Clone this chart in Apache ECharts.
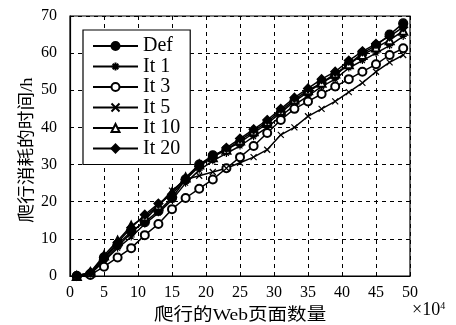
<!DOCTYPE html>
<html><head><meta charset="utf-8">
<script src="https://cdn.jsdelivr.net/npm/echarts@6/dist/echarts.min.js"></script>
<style>html,body{margin:0;padding:0;background:#fff}#c{width:456px;height:325px}</style>
</head><body><div id="c"></div>
<script>
var xs = [1,3,5,7,9,11,13,15,17,19,21,23,25,27,29,31,33,35,37,39,41,43,45,47,49];
var def  = [0,0.5,5,8.5,12,14.5,17.5,21,26,30,32.5,34,36,38.5,41,44,47,49.5,52,54,57,60,62,65,68];
var it1  = [0,0.5,4,7.5,10.5,14,17,20.5,25,28.5,31,33,35,37.5,40,43,46,48.5,51,53,56,58,60,62,64.5];
var it3  = [0,0.3,2.5,5,7.5,11,14,18,21,23.5,26,29,32,35,38.5,42,45,47,49,51,53,55,57,59.5,61.3];
var it5  = [0,0.5,4.5,8,11.5,15,19,23,26,27,28,29,30.5,32,34,38,40,43,45,47,49.5,52,55,57.5,59.5];
var it10 = [0,1,5.5,9.5,13.5,16,19,22.5,26.5,30,32,34,36.5,39,41.5,44.5,47.5,50,52,54.5,57,59.5,61.5,63.5,66];
var it20 = [0,1,5,9,13,16.5,19.5,22,26,29.5,32,34.5,37,39.5,42,45,48,50.5,53,55,58,60.5,62.5,64.5,67];
var names = ['Def','It 1','It 3','It 5','It 10','It 20'];
var xTicks = [0,5,10,15,20,25,30,35,40,45,50];
var yTicks = [0,10,20,30,40,50,60,70];

var SERIF = 'Liberation Serif';
var CJK = 'Liberation Serif, Noto Sans CJK SC';
var starPath = 'path://M5,0L5,10M0,5L10,5M1.5,1.5L8.5,8.5M8.5,1.5L1.5,8.5';
var xPath = 'path://M0,0L10,10M10,0L0,10';
function pairs(v){ return xs.map(function(x,i){return [x,v[i]];}); }
var specs = [
  {d:def, sym:'circle', size:9},
  {d:it1, sym:starPath, size:7},
  {d:it3, sym:'emptyCircle', size:8},
  {d:it5, sym:xPath, size:6},
  {d:it10, sym:'emptyTriangle', size:8},
  {d:it20, sym:'diamond', size:9}
];
var series = specs.map(function(s,i){
  return {
    name: names[i], type:'line', data: pairs(s.d), symbol: s.sym, symbolSize: s.size,
    lineStyle:{color:'#000', width:1.5},
    itemStyle:{color:'#000', borderColor:'#000', borderWidth:1.2},
    animation:false, z: 2
  };
});
var chart = echarts.init(document.getElementById('c'));
chart.setOption({
  animation:false,
  backgroundColor:'#fff',
  grid:{left:70, right:46, top:16, bottom:49, show:true, borderColor:'#000', borderWidth:1.2, backgroundColor:'transparent'},
  xAxis:{type:'value', min:0, max:50, interval:5,
    axisLine:{lineStyle:{color:'#000', width:1.2}},
    axisTick:{inside:true, length:4, lineStyle:{color:'#000'}},
    axisLabel:{color:'#000', fontFamily:SERIF, fontSize:16, margin:9,
      formatter:function(v){return xTicks.indexOf(v)>=0 ? String(v) : '';}},
    splitLine:{show:true, lineStyle:{color:'#000', type:[4,4], width:1}}
  },
  yAxis:{type:'value', min:0, max:70, interval:10,
    axisLine:{show:true, lineStyle:{color:'#000', width:1.2}},
    axisTick:{show:true, inside:true, length:4, lineStyle:{color:'#000'}},
    axisLabel:{color:'#000', fontFamily:SERIF, fontSize:16, margin:13,
      formatter:function(v){return yTicks.indexOf(v)>=0 ? String(v) : '';}},
    splitLine:{show:true, lineStyle:{color:'#000', type:[4,4], width:1}}
  },
  legend:{
    data:names, orient:'vertical', left:83, top:30, z:20,
    padding:[6,10,6,9], itemGap:0.5, itemWidth:45, itemHeight:10,
    backgroundColor:'#fff', borderColor:'#000', borderWidth:1.2,
    textStyle:{color:'#000', fontFamily:SERIF, fontSize:20, lineHeight:20, padding:[0,0,0,0]}
  },
  graphic:[
    {type:'text', left:154, top:307, scaleX:1.15, style:{text:'爬行的Web页面数量', fontFamily:CJK, fontSize:17, fill:'#000'}},
    {type:'text', x:28, y:150, rotation:Math.PI/2, scaleX:1.1, style:{text:'爬行消耗的时间/h', fontFamily:CJK, fontSize:17, fill:'#000', align:'center', verticalAlign:'middle'}},
    {type:'text', left:412, top:301, style:{rich:{a:{fontFamily:SERIF, fontSize:18, fill:'#000', verticalAlign:'bottom'}, b:{fontFamily:SERIF, fontSize:10, fill:'#000', verticalAlign:'top'}}, text:'{a|×10}{b|4}'}}
  ],
  series: series
});
</script></body></html>
